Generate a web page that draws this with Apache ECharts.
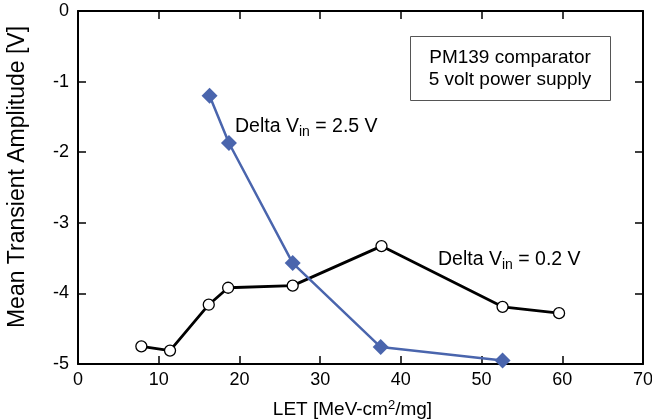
<!DOCTYPE html>
<html>
<head>
<meta charset="utf-8">
<script src="https://cdn.jsdelivr.net/npm/echarts@6/dist/echarts.min.js"></script>
<style>
  html, body { margin: 0; padding: 0; background: #fff; }
  #chart { width: 652px; height: 420px; }
</style>
</head>
<body>
<div id="chart"></div>
<script>
// data
var let25 = [16.3, 18.7, 26.6, 37.5, 52.6];
var amp25 = [-1.20, -1.87, -3.57, -4.76, -4.95];
var let02 = [7.85, 11.4, 16.2, 18.6, 26.6, 37.6, 52.6, 59.6];
var amp02 = [-4.75, -4.81, -4.16, -3.92, -3.89, -3.33, -4.19, -4.28];

function pairs(xs, ys) {
  return xs.map(function (x, i) { return [x, ys[i]]; });
}

var font = 'Liberation Sans, Arial, sans-serif';
var blue = '#4a65ad';
var tick = { inside: true, length: 8, lineStyle: { color: '#000', width: 1.5 } };
var line = { show: true, onZero: false, lineStyle: { color: '#000', width: 2 } };

var myChart = echarts.init(document.getElementById('chart'));
var option = {
  animation: false,
  grid: { left: 78, right: 9, top: 11, bottom: 56, outerBoundsMode: 'none' },
  xAxis: [
    {
      type: 'value', min: 0, max: 70, interval: 10,
      name: 'LET [MeV-cm{sup|2}/mg]',
      nameLocation: 'middle', nameGap: 35,
      nameTextStyle: {
        fontFamily: font, fontSize: 19, color: '#000', padding: [0, 16, 0, 0],
        rich: { sup: { fontFamily: font, fontSize: 13, verticalAlign: 'top', padding: [0, 0, 8, 0], color: '#000' } }
      },
      axisLine: line,
      axisTick: tick,
      axisLabel: { fontFamily: font, fontSize: 18, color: '#000', margin: 7 },
      splitLine: { show: false }
    },
    {
      type: 'value', position: 'top', min: 0, max: 70, interval: 10,
      axisLine: line,
      axisTick: tick,
      axisLabel: { show: false },
      splitLine: { show: false }
    }
  ],
  yAxis: [
    {
      type: 'value', min: -5, max: 0, interval: 1,
      axisLine: line,
      axisTick: tick,
      axisLabel: { fontFamily: font, fontSize: 18, color: '#000', margin: 9 },
      splitLine: { show: false }
    },
    {
      type: 'value', position: 'right', min: -5, max: 0, interval: 1,
      axisLine: line,
      axisTick: tick,
      axisLabel: { show: false },
      splitLine: { show: false }
    }
  ],
  series: [
    {
      name: 'Delta Vin = 0.2 V',
      type: 'line',
      data: pairs(let02, amp02),
      symbol: 'circle', symbolSize: 11,
      itemStyle: { color: '#fff', borderColor: '#000', borderWidth: 1.3 },
      lineStyle: { color: '#000', width: 2.8 },
      z: 3
    },
    {
      name: 'Delta Vin = 2.5 V',
      type: 'line',
      data: pairs(let25, amp25),
      symbol: 'diamond', symbolSize: 16,
      itemStyle: { color: blue },
      lineStyle: { color: blue, width: 2.5 },
      z: 4
    }
  ],
  graphic: [
    {
      // y axis title
      type: 'text', x: 18, y: 177, rotation: Math.PI / 2,
      style: {
        text: 'Mean Transient Amplitude [V]',
        font: '23px ' + font, fill: '#000',
        align: 'center', verticalAlign: 'middle'
      }
    },
    {
      type: 'rect', left: 410, top: 36,
      shape: { width: 200, height: 64 },
      style: { fill: '#fff', stroke: '#555', lineWidth: 1 }
    },
    {
      type: 'text', x: 510, y: 69,
      style: {
        text: 'PM139 comparator\n5 volt power supply',
        font: '19px ' + font, fill: '#000', lineHeight: 22,
        align: 'center', verticalAlign: 'middle'
      }
    },
    {
      type: 'text', x: 235, y: 127,
      style: {
        text: 'Delta V{sub|in} = 2.5 V',
        font: '19.5px ' + font, fill: '#000', verticalAlign: 'middle',
        rich: { sub: { font: '14px ' + font, fill: '#000', verticalAlign: 'bottom', padding: [10, 0, 0, 0] } }
      }
    },
    {
      type: 'text', x: 438, y: 260,
      style: {
        text: 'Delta V{sub|in} = 0.2 V',
        font: '19.5px ' + font, fill: '#000', verticalAlign: 'middle',
        rich: { sub: { font: '14px ' + font, fill: '#000', verticalAlign: 'bottom', padding: [10, 0, 0, 0] } }
      }
    }
  ]
};
myChart.setOption(option);
</script>
</body>
</html>
